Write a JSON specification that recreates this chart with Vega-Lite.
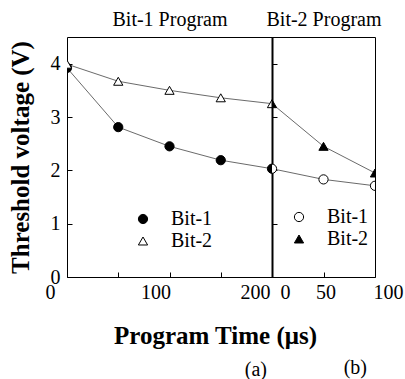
{
  "$schema": "https://vega.github.io/schema/vega-lite/v6.json",
  "background": "white",
  "padding": {"left": 7, "top": 8, "right": 5, "bottom": 5},
  "bounds": "flush",
  "spacing": 0,
  "datasets": {
    "p1": [
      {"time": 0, "vth": 3.92, "bit": "Bit-1"},
      {"time": 50, "vth": 2.81, "bit": "Bit-1"},
      {"time": 100, "vth": 2.45, "bit": "Bit-1"},
      {"time": 150, "vth": 2.19, "bit": "Bit-1"},
      {"time": 200, "vth": 2.03, "bit": "Bit-1"},
      {"time": 0, "vth": 3.99, "bit": "Bit-2"},
      {"time": 50, "vth": 3.67, "bit": "Bit-2"},
      {"time": 100, "vth": 3.5, "bit": "Bit-2"},
      {"time": 150, "vth": 3.36, "bit": "Bit-2"},
      {"time": 200, "vth": 3.25, "bit": "Bit-2"}
    ],
    "p2": [
      {"time": 0, "vth": 2.03, "bit": "Bit-1"},
      {"time": 50, "vth": 1.83, "bit": "Bit-1"},
      {"time": 100, "vth": 1.71, "bit": "Bit-1"},
      {"time": 0, "vth": 3.25, "bit": "Bit-2"},
      {"time": 50, "vth": 2.45, "bit": "Bit-2"},
      {"time": 100, "vth": 1.95, "bit": "Bit-2"}
    ]
  },
  "resolve": {
    "scale": {"x": "independent", "y": "shared", "fill": "independent", "shape": "independent", "stroke": "independent"},
    "legend": {"fill": "independent", "shape": "independent", "stroke": "independent"}
  },
  "hconcat": [
    {
      "width": 205,
      "height": 240,
      "data": {"name": "p1"},
      "title": {"text": "(a)", "orient": "bottom", "anchor": "end", "frame": "group", "offset": 12, "dx": -5, "fontSize": 20, "font": "Liberation Serif", "fontWeight": "normal", "color": "black"},
      "resolve": {"axis": {"x": "independent"}},
      "layer": [
        {
          "mark": {"type": "line", "color": "#444", "strokeWidth": 0.8, "clip": true},
          "encoding": {
            "x": {
              "field": "time", "type": "quantitative",
              "scale": {"domain": [0, 200], "nice": false, "zero": false},
              "axis": {
                "orient": "bottom", "values": [0, 50, 100, 150, 200],
                "labelExpr": "datum.value % 100 === 0 ? format(datum.value, 'd') : ''",
                "labelOffset": {"condition": {"test": "datum.value === 100", "value": -14}, "value": -17},
                "tickSize": -5, "labelPadding": 10, "domain": false, "grid": false,
                "title": "Program Time (μs)", "titleX": 148, "titleY": 66, "titleBaseline": "alphabetic",
                "titleFontSize": 25, "titleFontWeight": "bold"
              }
            },
            "y": {
              "field": "vth", "type": "quantitative",
              "scale": {"domain": [0, 4.5], "nice": false},
              "axis": {
                "values": [0, 0.5, 1, 1.5, 2, 2.5, 3, 3.5, 4],
                "labelExpr": "datum.value % 1 === 0 ? format(datum.value, 'd') : ''",
                "tickSize": -5, "labelPadding": 12, "domain": false, "grid": false,
                "title": "Threshold voltage (V)", "titleFontSize": 25, "titleFontWeight": "bold", "titlePadding": 17
              }
            },
            "detail": {"field": "bit"}
          }
        },
        {
          "mark": {"type": "point", "filled": true, "strokeWidth": 1, "size": 85, "opacity": 1, "clip": true},
          "encoding": {
            "x": {
              "field": "time", "type": "quantitative",
              "axis": {"orient": "top", "labels": false, "ticks": false, "domain": false, "grid": false,
                "title": "Bit-1 Program", "titleFontSize": 20, "titleFontWeight": "normal", "titlePadding": 12, "titleBaseline": "alphabetic"}
            },
            "y": {"field": "vth", "type": "quantitative"},
            "shape": {
              "field": "bit", "type": "nominal",
              "scale": {"domain": ["Bit-1", "Bit-2"], "range": ["circle", "triangle-up"]},
              "legend": {
                "orient": "none", "legendX": 66, "legendY": 172, "title": null, "padding": 0,
                "labelFont": "Liberation Serif", "labelFontSize": 20, "labelColor": "black", "labelOffset": 18,
                "symbolSize": 85, "symbolStrokeWidth": 1, "rowPadding": 2
              }
            },
            "fill": {
              "field": "bit", "type": "nominal",
              "scale": {"domain": ["Bit-1", "Bit-2"], "range": ["black", "white"]},
              "legend": {
                "orient": "none", "legendX": 66, "legendY": 172, "title": null, "padding": 0,
                "labelFont": "Liberation Serif", "labelFontSize": 20, "labelColor": "black", "labelOffset": 18,
                "symbolSize": 85, "symbolStrokeWidth": 1, "rowPadding": 2
              }
            },
            "stroke": {
              "field": "bit", "type": "nominal",
              "scale": {"domain": ["Bit-1", "Bit-2"], "range": ["black", "black"]},
              "legend": {
                "orient": "none", "legendX": 66, "legendY": 172, "title": null, "padding": 0,
                "labelFont": "Liberation Serif", "labelFontSize": 20, "labelColor": "black", "labelOffset": 18,
                "symbolSize": 85, "symbolStrokeWidth": 1, "rowPadding": 2
              }
            }
          }
        }
      ]
    },
    {
      "width": 103,
      "height": 240,
      "data": {"name": "p2"},
      "title": {"text": "(b)", "orient": "bottom", "anchor": "end", "frame": "group", "offset": 56, "dx": -8, "fontSize": 20, "font": "Liberation Serif", "fontWeight": "normal", "color": "black"},
      "resolve": {"axis": {"x": "independent"}},
      "layer": [
        {
          "mark": {"type": "line", "color": "#444", "strokeWidth": 0.8, "clip": true},
          "encoding": {
            "x": {
              "field": "time", "type": "quantitative",
              "scale": {"domain": [0, 100], "nice": false, "zero": false},
              "axis": {
                "orient": "bottom", "values": [0, 50, 100],
                "format": "d",
                "labelOffset": {"condition": {"test": "datum.value === 50", "value": 2}, "value": 13},
                "tickSize": -5, "labelPadding": 10, "domain": false, "grid": false, "title": null
              }
            },
            "y": {
              "field": "vth", "type": "quantitative",
              "scale": {"domain": [0, 4.5], "nice": false},
              "axis": {
                "values": [0, 0.5, 1, 1.5, 2, 2.5, 3, 3.5, 4],
                "labels": false, "tickSize": -5, "domain": true, "domainWidth": 2, "grid": false, "title": null
              }
            },
            "detail": {"field": "bit"}
          }
        },
        {
          "mark": {"type": "point", "filled": true, "strokeWidth": 1, "size": 85, "opacity": 1, "clip": true},
          "encoding": {
            "x": {
              "field": "time", "type": "quantitative",
              "axis": {"orient": "top", "labels": false, "ticks": false, "domain": false, "grid": false,
                "title": "Bit-2 Program", "titleFontSize": 20, "titleFontWeight": "normal", "titlePadding": 12, "titleBaseline": "alphabetic"}
            },
            "y": {"field": "vth", "type": "quantitative"},
            "shape": {
              "field": "bit", "type": "nominal",
              "scale": {"domain": ["Bit-1", "Bit-2"], "range": ["circle", "triangle-up"]},
              "legend": {
                "orient": "none", "legendX": 17, "legendY": 170, "title": null, "padding": 0,
                "labelFont": "Liberation Serif", "labelFontSize": 20, "labelColor": "black", "labelOffset": 18,
                "symbolSize": 85, "symbolStrokeWidth": 1, "rowPadding": 2
              }
            },
            "fill": {
              "field": "bit", "type": "nominal",
              "scale": {"domain": ["Bit-1", "Bit-2"], "range": ["white", "black"]},
              "legend": {
                "orient": "none", "legendX": 17, "legendY": 170, "title": null, "padding": 0,
                "labelFont": "Liberation Serif", "labelFontSize": 20, "labelColor": "black", "labelOffset": 18,
                "symbolSize": 85, "symbolStrokeWidth": 1, "rowPadding": 2
              }
            },
            "stroke": {
              "field": "bit", "type": "nominal",
              "scale": {"domain": ["Bit-1", "Bit-2"], "range": ["black", "black"]},
              "legend": {
                "orient": "none", "legendX": 17, "legendY": 170, "title": null, "padding": 0,
                "labelFont": "Liberation Serif", "labelFontSize": 20, "labelColor": "black", "labelOffset": 18,
                "symbolSize": 85, "symbolStrokeWidth": 1, "rowPadding": 2
              }
            }
          }
        }
      ]
    }
  ],
  "config": {
    "font": "Liberation Serif",
    "view": {"stroke": "black", "strokeWidth": 1},
    "axis": {
      "labelFont": "Liberation Serif", "labelFontSize": 20, "labelColor": "black", "labelOverlap": false,
      "labelFlush": false, "labelBound": false,
      "tickColor": "black", "tickWidth": 1, "domainColor": "black",
      "titleFont": "Liberation Serif", "titleColor": "black"
    },
    "legend": {"labelFont": "Liberation Serif"}
  }
}
